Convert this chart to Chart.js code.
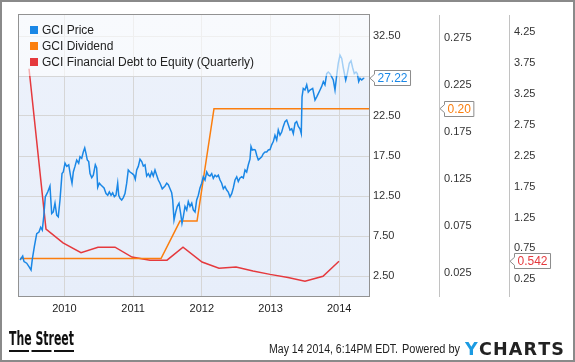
<!DOCTYPE html>
<html>
<head>
<meta charset="utf-8">
<script src="https://cdn.jsdelivr.net/npm/chart.js@4.4.1/dist/chart.umd.min.js"></script>
<style>
  html, body { margin: 0; padding: 0; background: #fff; }
  canvas { display: block; }
</style>
</head>
<body>
<canvas id="gciChart" width="575" height="362"></canvas>
<script>
// dates are decimal years
const priceDates = [
  2009.353, 2009.392, 2009.411, 2009.450, 2009.488, 2009.513, 2009.532, 2009.562, 2009.596, 2009.629,
  2009.654, 2009.677, 2009.698, 2009.721, 2009.756, 2009.789, 2009.814, 2009.837, 2009.862, 2009.887,
  2009.910, 2009.935, 2009.964, 2009.983, 2010.008, 2010.033, 2010.062, 2010.091, 2010.110, 2010.129,
  2010.153, 2010.178, 2010.207, 2010.226, 2010.251, 2010.274, 2010.295, 2010.314, 2010.332, 2010.353,
  2010.372, 2010.397, 2010.420, 2010.449, 2010.469, 2010.484, 2010.507, 2010.528, 2010.546, 2010.576,
  2010.605, 2010.630, 2010.653, 2010.678, 2010.702, 2010.726, 2010.750, 2010.775, 2010.790, 2010.809,
  2010.833, 2010.857, 2010.881, 2010.906, 2010.929, 2010.954, 2010.988, 2011.012, 2011.031, 2011.052,
  2011.075, 2011.100, 2011.125, 2011.148, 2011.173, 2011.197, 2011.221, 2011.245, 2011.270, 2011.293,
  2011.318, 2011.343, 2011.366, 2011.391, 2011.424, 2011.464, 2011.489, 2011.512, 2011.537, 2011.561,
  2011.576, 2011.595, 2011.620, 2011.643, 2011.668, 2011.692, 2011.711, 2011.730, 2011.755, 2011.780,
  2011.803, 2011.828, 2011.853, 2011.876, 2011.901, 2011.925, 2011.949, 2011.973, 2011.998, 2012.021,
  2012.046, 2012.071, 2012.094, 2012.119, 2012.144, 2012.167, 2012.192, 2012.217, 2012.240, 2012.265,
  2012.289, 2012.313, 2012.337, 2012.362, 2012.385, 2012.410, 2012.435, 2012.458, 2012.483, 2012.508,
  2012.531, 2012.556, 2012.581, 2012.604, 2012.629, 2012.653, 2012.677, 2012.701, 2012.716, 2012.735,
  2012.760, 2012.779, 2012.799, 2012.822, 2012.847, 2012.872, 2012.895, 2012.920, 2012.945, 2012.968,
  2012.993, 2013.017, 2013.041, 2013.065, 2013.090, 2013.113, 2013.138, 2013.163, 2013.186, 2013.211,
  2013.236, 2013.259, 2013.284, 2013.309, 2013.332, 2013.357, 2013.381, 2013.405, 2013.429, 2013.448,
  2013.459, 2013.477, 2013.502, 2013.527, 2013.550, 2013.575, 2013.614, 2013.648, 2013.673, 2013.696,
  2013.721, 2013.745, 2013.769, 2013.793, 2013.818, 2013.841, 2013.866, 2013.891, 2013.914, 2013.939,
  2013.964, 2013.987, 2014.012, 2014.037, 2014.060, 2014.095, 2014.118, 2014.147, 2014.172, 2014.197,
  2014.220, 2014.245, 2014.264, 2014.284, 2014.303, 2014.328, 2014.351, 2014.366
];
const priceValues = [
  4.5, 5.0, 4.3, 4.1, 3.6, 3.25, 4.6, 6.2, 7.8, 8.0,
  8.6, 8.25, 9.9, 12.4, 13.0, 13.75, 10.3, 10.5, 11.6, 10.1,
  9.9, 12.0, 15.3, 15.5, 16.6, 16.2, 16.4, 14.9, 14.1, 15.5,
  16.2, 17.0, 16.6, 17.4, 17.2, 18.0, 18.5, 17.8, 17.0, 16.8,
  15.3, 14.8, 15.1, 16.4, 16.0, 13.6, 14.1, 13.9, 13.75, 13.5,
  12.8, 12.6, 13.0, 12.6, 12.9, 12.4, 12.6, 14.1, 12.6, 12.2,
  12.0, 12.3, 12.8, 14.1, 15.75, 15.5, 15.3, 15.1, 14.6, 15.75,
  16.2, 17.1, 16.8, 16.25, 16.4, 15.0, 15.3, 14.9, 15.5, 15.0,
  15.75, 15.1, 14.5, 14.1, 13.4, 13.75, 14.1, 13.9, 13.4, 12.9,
  12.0, 9.5, 10.5, 11.2, 11.6, 10.3, 9.1, 9.9, 11.2, 10.75,
  11.8, 11.2, 11.6, 10.75, 10.5, 12.0, 12.6, 13.5, 14.1, 14.9,
  14.5, 15.5, 15.1, 15.0, 15.3, 14.7, 15.1, 14.9, 15.1, 14.5,
  14.1, 13.4, 13.7, 13.25, 13.0, 12.4, 12.8, 13.5, 14.5, 14.9,
  14.3, 14.75, 14.9, 14.75, 15.75, 15.5, 16.4, 17.1, 18.7, 18.25,
  18.3, 18.25, 17.6, 17.0, 17.2, 17.4, 17.8, 18.0, 18.0, 18.25,
  18.3, 18.9, 19.3, 20.1, 19.5, 20.75, 20.1, 20.5, 21.2, 21.8,
  22.0, 21.4, 20.75, 20.9, 20.3, 21.6, 21.8, 21.2, 20.9, 20.3,
  24.9, 25.95, 25.75, 26.4, 25.5, 25.75, 25.95, 24.5, 24.9, 25.3,
  25.75, 26.2, 26.8, 26.4, 27.8, 28.0, 27.8, 27.4, 27.0, 25.75,
  27.6, 29.1, 30.1, 29.7, 28.5, 27.0, 27.8, 29.1, 29.4, 28.5,
  27.8, 28.0, 27.8, 26.8, 27.2, 27.0, 27.2, 27.22
];

const dividendDates = [2009.353, 2011.406, 2011.682, 2011.930, 2012.177, 2014.434];
const dividendValues = [0.04, 0.04, 0.08, 0.08, 0.20, 0.20];

const debtDates = [
  2009.484, 2009.731, 2009.979, 2010.241, 2010.488, 2010.736, 2010.983, 2011.245, 2011.493, 2011.726,
  2012.003, 2012.250, 2012.498, 2012.745, 2012.993, 2013.255, 2013.502, 2013.764, 2013.997
];
const debtValues = [
  3.66, 1.065, 0.84, 0.68, 0.77, 0.77, 0.61, 0.56, 0.56, 0.77,
  0.53, 0.43, 0.45, 0.385, 0.33, 0.28, 0.22, 0.30, 0.542
];

const yearTicks = [2010, 2011, 2012, 2013, 2014];
const priceTicks = [2.5, 7.5, 12.5, 17.5, 22.5, 27.5, 32.5];
const dividendTicks = [0.025, 0.075, 0.125, 0.175, 0.225, 0.275];
const debtTicks = [0.25, 0.75, 1.25, 1.75, 2.25, 2.75, 3.25, 3.75, 4.25];

const seriesNames = ['GCI Price', 'GCI Dividend', 'GCI Financial Debt to Equity (Quarterly)'];
const seriesColors = ['#1a87e6', '#fb7e0e', '#e5393d'];
const lastLabels = ['27.22', '0.20', '0.542'];

const FONT = '"Liberation Sans", Arial, sans-serif';
Chart.defaults.font.family = FONT;
Chart.defaults.color = '#333';

function pts(xs, ys) {
  return xs.map((x, i) => ({ x: x, y: ys[i] }));
}

function setTicks(list) {
  return scale => { scale.ticks = list.map(v => ({ value: v })); };
}

function tag(ctx, tipX, y, text, color) {
  ctx.font = '12px ' + FONT;
  const w = ctx.measureText(text).width + 6;
  const left = tipX + 4.5, top = Math.round(y) - 7.5, h = 15;
  ctx.beginPath();
  ctx.moveTo(tipX, y);
  ctx.lineTo(left, y - 4);
  ctx.lineTo(left, top);
  ctx.lineTo(left + w, top);
  ctx.lineTo(left + w, top + h);
  ctx.lineTo(left, top + h);
  ctx.lineTo(left, y + 4);
  ctx.closePath();
  ctx.fillStyle = '#fff';
  ctx.fill();
  ctx.strokeStyle = '#8c8c8c';
  ctx.lineWidth = 1;
  ctx.stroke();
  ctx.fillStyle = color;
  ctx.textAlign = 'left';
  ctx.textBaseline = 'middle';
  ctx.fillText(text, left + 3, top + h / 2 + 0.5);
}

// draw text squeezed into a given width
function fitText(ctx, text, x, y, width) {
  const w = ctx.measureText(text).width;
  ctx.save();
  ctx.translate(x, y);
  ctx.scale(Math.min(1, width / w), 1);
  ctx.fillText(text, 0, 0);
  ctx.restore();
}

const decor = {
  id: 'decor',
  beforeDraw(chart) {
    const { ctx, chartArea: a } = chart;
    ctx.save();
    ctx.fillStyle = '#fff';
    ctx.fillRect(0, 0, chart.width, chart.height);
    const g = ctx.createLinearGradient(0, a.top, 0, a.bottom);
    g.addColorStop(0, '#edf2fb');
    g.addColorStop(1, '#e7eefa');
    ctx.fillStyle = g;
    ctx.fillRect(a.left, a.top, a.right - a.left, a.bottom - a.top);
    ctx.restore();
  },
  afterDatasetsDraw(chart) {
    const { ctx, chartArea: a } = chart;
    ctx.save();
    // legend sits on a pale band over the plot
    ctx.fillStyle = 'rgba(255,255,255,0.6)';
    ctx.fillRect(a.left, a.top, a.right - a.left, 61);
    ctx.font = '12px ' + FONT;
    ctx.textBaseline = 'middle';
    ctx.textAlign = 'left';
    seriesNames.forEach((name, i) => {
      const cy = 30 + i * 16;
      ctx.fillStyle = seriesColors[i];
      ctx.fillRect(30, cy - 4, 8, 8);
      ctx.fillStyle = '#222';
      ctx.fillText(name, 42, cy + 0.5);
    });
    ctx.restore();
  },
  afterDraw(chart) {
    const { ctx, chartArea: a, scales } = chart;
    ctx.save();
    // plot frame
    ctx.strokeStyle = '#929292';
    ctx.lineWidth = 1;
    ctx.strokeRect(a.left - 0.5, a.top - 0.5, a.right - a.left + 1, a.bottom - a.top + 1);

    // last-value tags
    const ids = ['price', 'div', 'debt'];
    const lastVals = [priceValues[priceValues.length - 1], dividendValues[dividendValues.length - 1], debtValues[debtValues.length - 1]];
    ids.forEach((id, i) => {
      const s = scales[id];
      tag(ctx, s.left + 1, s.getPixelForValue(lastVals[i]), lastLabels[i], seriesColors[i]);
    });

    // footer: The Street logo
    ctx.fillStyle = '#111';
    ctx.textAlign = 'left';
    ctx.textBaseline = 'alphabetic';
    ctx.font = 'bold 20px "Liberation Sans Narrow", "DejaVu Sans Condensed", ' + FONT;
    const tw = ctx.measureText('The Street').width;
    ctx.save();
    ctx.translate(9, 345);
    ctx.scale(65 / tw, 1);
    ctx.fillText('The Street', 0, 0);
    ctx.restore();
    ctx.fillRect(9, 350, 20, 2);
    ctx.fillRect(31.5, 350, 20, 2);
    ctx.fillRect(54, 350, 20, 2);

    // footer: timestamp and YCharts
    ctx.font = '12px ' + FONT;
    ctx.fillStyle = '#222';
    fitText(ctx, 'May 14 2014, 6:14PM EDT.', 269, 353, 129);
    fitText(ctx, 'Powered by', 402, 353, 58);
    ctx.font = 'bold 18px "DejaVu Sans", ' + FONT;
    const letters = 'YCHARTS'.split('');
    const widths = letters.map(c => ctx.measureText(c).width);
    const total = widths.reduce((p, c) => p + c, 0);
    const squeeze = Math.min(1, 92 / total);
    const gap = (99 - total * squeeze) / (letters.length - 1);
    let x = 465;
    letters.forEach((c, i) => {
      ctx.fillStyle = i === 0 ? '#1b9be2' : '#222';
      fitText(ctx, c, x, 354.5, widths[i] * squeeze);
      x += widths[i] * squeeze + gap;
    });

    // outer frame
    ctx.strokeStyle = '#8a8a8a';
    ctx.lineWidth = 2;
    ctx.strokeRect(1, 1, chart.width - 2, chart.height - 2);
    ctx.restore();
  }
};

const tickFont = { size: 11, family: FONT };

new Chart(document.getElementById('gciChart'), {
  type: 'line',
  data: {
    datasets: [{
      label: seriesNames[0],
      data: pts(priceDates, priceValues),
      borderColor: seriesColors[0],
      borderWidth: 1.5,
      pointRadius: 0,
      yAxisID: 'price'
    }, {
      label: seriesNames[1],
      data: pts(dividendDates, dividendValues),
      borderColor: seriesColors[1],
      borderWidth: 1.5,
      pointRadius: 0,
      yAxisID: 'div'
    }, {
      label: seriesNames[2],
      data: pts(debtDates, debtValues),
      borderColor: seriesColors[2],
      borderWidth: 1.5,
      pointRadius: 0,
      yAxisID: 'debt'
    }]
  },
  options: {
    responsive: false,
    animation: false,
    events: [],
    layout: { padding: { top: 15, left: 19, right: 16, bottom: 46 } },
    plugins: { legend: { display: false }, tooltip: { enabled: false } },
    scales: {
      x: {
        type: 'linear',
        min: 2009.338,
        max: 2014.434,
        afterBuildTicks: setTicks(yearTicks),
        afterFit: s => { s.height = 20; },
        ticks: { font: tickFont, color: '#222', padding: 6, maxRotation: 0, autoSkip: false, callback: v => String(v) },
        grid: { color: '#d6d6d6', drawTicks: false },
        border: { display: false }
      },
      price: {
        position: 'right',
        weight: 0,
        min: 0,
        max: 35.125,
        afterBuildTicks: setTicks(priceTicks),
        afterFit: s => { s.width = 70; },
        ticks: { font: tickFont, color: '#333', padding: 4, callback: v => v === 27.5 ? '' : v.toFixed(2) },
        grid: { color: '#d6d6d6', drawTicks: false },
        border: { display: false }
      },
      div: {
        position: 'right',
        weight: 1,
        min: 0,
        max: 0.3,
        afterBuildTicks: setTicks(dividendTicks),
        afterFit: s => { s.width = 70; },
        ticks: { font: tickFont, color: '#333', padding: 5, callback: v => v.toFixed(3) },
        grid: { display: false, drawTicks: false },
        border: { display: true, color: '#c2c2c2' }
      },
      debt: {
        position: 'right',
        weight: 2,
        min: -0.02,
        max: 4.53,
        afterBuildTicks: setTicks(debtTicks),
        afterFit: s => { s.width = 50; },
        ticks: { font: tickFont, color: '#333', padding: 5, callback: v => v.toFixed(2) },
        grid: { display: false, drawTicks: false },
        border: { display: true, color: '#c2c2c2' }
      }
    }
  },
  plugins: [decor]
});
</script>
</body>
</html>
